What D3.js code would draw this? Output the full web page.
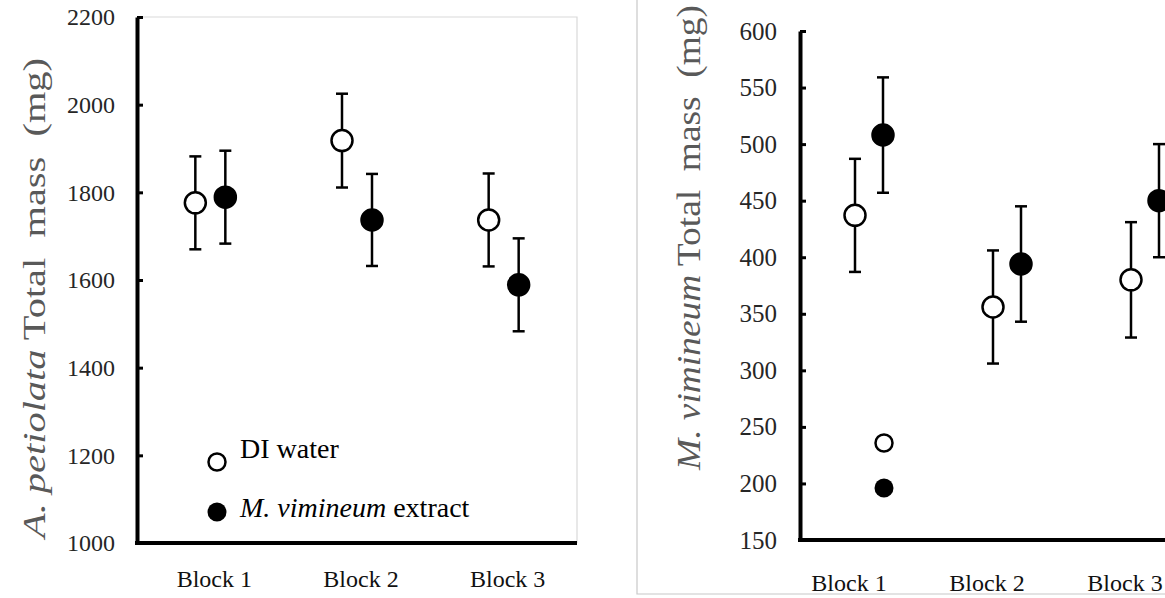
<!DOCTYPE html>
<html>
<head>
<meta charset="utf-8">
<script src="https://cdn.jsdelivr.net/npm/d3@7"></script>
<style>
  body { margin: 0; background: #fff; }
  svg text { font-family: "Liberation Serif", "DejaVu Serif", serif; white-space: pre; }
</style>
</head>
<body>
<svg width="1165" height="598"></svg>
<script>
// Categories
var blocks = ["Block 1", "Block 2", "Block 3"];

// Left panel: A. petiolata total mass (mg), mean and error
var apDI = [1776, 1918, 1737];
var apDIerr = [106, 107, 106];
var apExt = [1789, 1737, 1589];
var apExtErr = [106, 105, 106];
var apTicks = [1000, 1200, 1400, 1600, 1800, 2000, 2200];

// Right panel: M. vimineum total mass (mg)
var mvDI = [437, 356, 380];
var mvDIerr = [50, 50, 51];
var mvExt = [508, 394, 450];
var mvExtErr = [51, 51, 50];
var mvTicks = [150, 200, 250, 300, 350, 400, 450, 500, 550, 600];

var svg = d3.select("svg");
var serif = "Liberation Serif";

// Build one panel
function panel(opt) {
  var g = svg.append("g");
  var x = d3.scaleBand().domain(blocks).range(opt.xr);
  var y = d3.scaleLinear().domain(opt.ydom).range(opt.yr);

  // y axis, ticks pointing inward
  var ax = g.append("g")
    .attr("transform", "translate(" + opt.xr[0] + ",0)")
    .call(d3.axisLeft(y).tickValues(opt.ticks).tickFormat(d3.format("d"))
      .tickSizeInner(-6).tickSizeOuter(0).tickPadding(opt.pad));
  ax.attr("font-family", serif);
  ax.select(".domain").attr("stroke", "#000").attr("stroke-width", 4);
  ax.selectAll(".tick line").attr("stroke", "#000").attr("stroke-width", 3);
  ax.selectAll(".tick text")
    .attr("font-size", opt.tickFont)
    .attr("fill", "#262626");

  // x axis line
  g.append("line")
    .attr("x1", opt.xr[0] - 2).attr("x2", opt.xr[1])
    .attr("y1", opt.yr[0]).attr("y2", opt.yr[0])
    .attr("stroke", "#000").attr("stroke-width", 4);

  // block labels
  g.append("g")
    .selectAll("text").data(blocks).enter().append("text")
    .attr("x", function(d) { return x(d) + x.bandwidth() / 2 + opt.labDx; })
    .attr("y", opt.labY)
    .attr("text-anchor", "middle")
    .attr("font-family", serif)
    .attr("font-size", 24)
    .attr("fill", "#111")
    .text(function(d) { return d; });

  // series
  var series = [
    { vals: opt.di, err: opt.diErr, dx: -opt.off, fill: "#fff" },
    { vals: opt.ext, err: opt.extErr, dx: opt.off, fill: "#000" }
  ];
  series.forEach(function(s) {
    var pts = blocks.map(function(b, i) {
      return { cx: x(b) + x.bandwidth() / 2 + s.dx, v: s.vals[i], e: s.err[i] };
    });
    var eb = g.append("g").attr("stroke", "#000").attr("stroke-width", 2.5);
    eb.selectAll(".v").data(pts).enter().append("line")
      .attr("x1", function(d) { return d.cx; }).attr("x2", function(d) { return d.cx; })
      .attr("y1", function(d) { return y(d.v - d.e); })
      .attr("y2", function(d) { return y(d.v + d.e); });
    [1, -1].forEach(function(sg) {
      eb.selectAll(".c" + sg).data(pts).enter().append("line")
        .attr("x1", function(d) { return d.cx - 6; }).attr("x2", function(d) { return d.cx + 6; })
        .attr("y1", function(d) { return y(d.v + sg * d.e); })
        .attr("y2", function(d) { return y(d.v + sg * d.e); });
    });
    g.selectAll(null).data(pts).enter().append("circle")
      .attr("cx", function(d) { return d.cx; })
      .attr("cy", function(d) { return y(d.v); })
      .attr("r", 10.5)
      .attr("fill", s.fill)
      .attr("stroke", "#000")
      .attr("stroke-width", 2.5);
  });
  return { x: x, y: y, g: g };
}

// light frame lines
svg.append("path").attr("d", "M137,17H577V543").attr("fill", "none").attr("stroke", "#d9d9d9").attr("stroke-width", 1.2);
svg.append("path").attr("d", "M637,0V594H1165").attr("fill", "none").attr("stroke", "#c8c8c8").attr("stroke-width", 1.2);

var L = panel({
  id: "L", xr: [137, 577], yr: [543, 17], ydom: [1000, 2200], ticks: apTicks, pad: 22, tickFont: 24,
  di: apDI, diErr: apDIerr, ext: apExt, extErr: apExtErr, off: 15,
  labDx: 4, labY: 587
});
var R = panel({
  id: "R", xr: [800, 1214], yr: [540, 31], ydom: [150, 600], ticks: mvTicks, pad: 23, tickFont: 25,
  di: mvDI, diErr: mvDIerr, ext: mvExt, extErr: mvExtErr, off: 14,
  labDx: -20, labY: 591
});

// y titles
function yTitle(x, y0, len, size, italic, rest) {
  var t = svg.append("text")
    .attr("transform", "translate(" + x + "," + y0 + ") rotate(-90)")
    .attr("font-family", serif)
    .attr("font-size", size)
    .attr("fill", "#595959")
    .attr("textLength", len)
    .attr("lengthAdjust", "spacingAndGlyphs");
  t.append("tspan").attr("font-style", "italic").text(italic);
  t.append("tspan").text(rest);
}
yTitle(45, 538, 480, 31, "A. petiolata", " Total  mass  (mg)");
yTitle(700, 470, 465, 33, "M. vimineum", " Total  mass  (mg)");

// legend, left panel
var leg = svg.append("g").attr("font-family", serif);
leg.append("circle").attr("cx", 217).attr("cy", 462).attr("r", 8.5)
  .attr("fill", "#fff").attr("stroke", "#000").attr("stroke-width", 2.5);
leg.append("circle").attr("cx", 217).attr("cy", 512).attr("r", 9.5).attr("fill", "#000");
leg.append("text").attr("x", 240).attr("y", 458).attr("font-size", 28).attr("fill", "#000").text("DI water");
var lt = leg.append("text").attr("x", 240).attr("y", 517).attr("font-size", 28).attr("fill", "#000");
lt.append("tspan").attr("font-style", "italic").text("M. vimineum");
lt.append("tspan").text(" extract");

// legend markers, right panel (text not shown in source)
svg.append("circle").attr("cx", 884).attr("cy", 443).attr("r", 8.5)
  .attr("fill", "#fff").attr("stroke", "#000").attr("stroke-width", 2.5);
svg.append("circle").attr("cx", 884).attr("cy", 488).attr("r", 9.5).attr("fill", "#000");
</script>
</body>
</html>
